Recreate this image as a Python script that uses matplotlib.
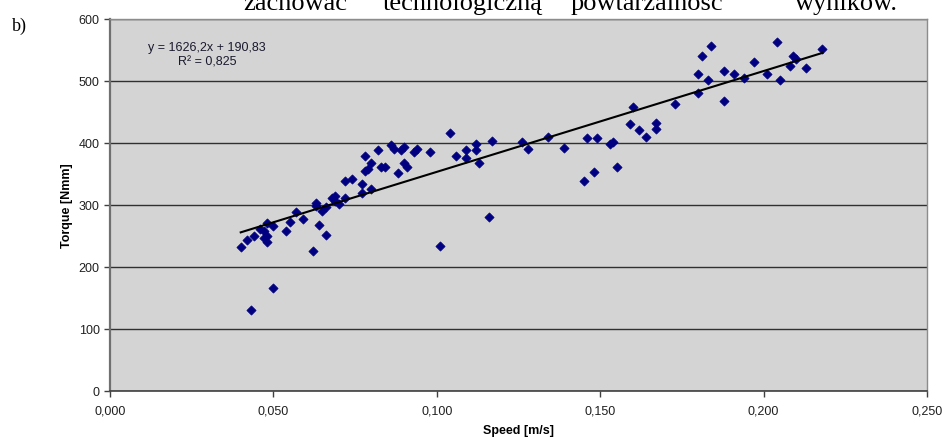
import matplotlib
matplotlib.use('Agg')
import matplotlib.pyplot as plt
from matplotlib.ticker import FuncFormatter, MultipleLocator
import numpy as np

# predkosc [m/s] i moment [Nmm]
speed = [0.040, 0.042, 0.043, 0.044, 0.046, 0.047, 0.047, 0.048, 0.048, 0.048,
         0.050, 0.050, 0.054, 0.055, 0.057, 0.059, 0.062, 0.063, 0.063, 0.064,
         0.065, 0.066, 0.066, 0.068, 0.069, 0.069, 0.070, 0.072, 0.072, 0.074,
         0.077, 0.077, 0.078, 0.078, 0.079, 0.080, 0.080, 0.082, 0.083, 0.084,
         0.086, 0.087, 0.088, 0.089, 0.090, 0.090, 0.091, 0.093, 0.094, 0.098,
         0.101, 0.104, 0.106, 0.109, 0.109, 0.112, 0.112, 0.113, 0.116, 0.117,
         0.126, 0.128, 0.134, 0.139, 0.145, 0.146, 0.148, 0.149, 0.153, 0.154,
         0.155, 0.159, 0.160, 0.162, 0.164, 0.167, 0.167, 0.173, 0.180, 0.180,
         0.181, 0.184, 0.183, 0.188, 0.188, 0.191, 0.194, 0.197, 0.201, 0.204,
         0.205, 0.208, 0.209, 0.210, 0.213, 0.218]
torque = [232, 244, 130, 250, 261, 258, 247, 271, 241, 250,
          266, 166, 258, 272, 288, 278, 226, 303, 298, 267,
          290, 296, 252, 312, 307, 314, 301, 312, 338, 342,
          334, 320, 355, 379, 358, 367, 326, 388, 361, 362,
          397, 390, 352, 389, 367, 394, 362, 385, 390, 386,
          234, 416, 379, 376, 389, 398, 389, 367, 281, 404,
          401, 390, 409, 392, 339, 408, 353, 408, 399, 402,
          362, 430, 458, 421, 410, 433, 423, 463, 511, 481,
          540, 556, 502, 516, 468, 512, 505, 530, 512, 563,
          502, 524, 541, 535, 521, 551]

# linia trendu z Excela
a = 1626.2
b = 190.83
eq_text = "y = 1626,2x + 190,83\nR² = 0,825"

xticks = [0.0, 0.05, 0.10, 0.15, 0.20, 0.25]

plt.rcParams['font.family'] = ['Liberation Sans', 'DejaVu Sans']

fig = plt.figure(figsize=(9.42, 4.39), dpi=100)
ax = fig.add_axes([110/942, 47/439, 817/942, 372/439])
ax.set_facecolor('#d4d4d4')

ax.set_xlim(0, 0.25)
ax.set_ylim(0, 600)
ax.set_xticks(xticks)
ax.yaxis.set_major_locator(MultipleLocator(100))
ax.xaxis.set_major_formatter(FuncFormatter(lambda v, p: ("%.3f" % v).replace('.', ',')))

ax.grid(True, axis='y', color='#303030', linewidth=1.0)
ax.set_axisbelow(True)

ax.scatter(speed, torque, marker='D', s=22, color='#000080', edgecolors='#000080',
           linewidths=0.5, zorder=3)

xs = np.array([min(speed), max(speed)])
ax.plot(xs, a*xs + b, color='black', linewidth=1.5, zorder=4)

ax.text(0.0297, 543, eq_text, ha='center', va='center', multialignment='center',
        fontsize=9, color='#1a1a2e')

for s in ['top', 'right']:
    ax.spines[s].set_color('#8c8c8c')
    ax.spines[s].set_linewidth(1.0)
ax.spines['left'].set_color('#707070')
ax.spines['left'].set_linewidth(1.6)
ax.spines['bottom'].set_color('#404040')
ax.spines['bottom'].set_linewidth(1.2)

ax.tick_params(axis='both', direction='out', length=4, width=1, color='#404040',
               labelsize=9, labelcolor='#202020')
ax.tick_params(axis='x', pad=6)

ax.set_xlabel('Speed [m/s]', fontsize=9, fontweight='bold', labelpad=5)
ax.set_ylabel('Torque [Nmm]', fontsize=9, fontweight='bold', labelpad=4)

# tekst z dokumentu nad wykresem (uciety u gory)
fig.text(12/942, 1 - 31/439, 'b)', fontsize=13, family='Liberation Serif', va='baseline')
slowa = ['zachować', 'technologiczną', 'powtarzalność', 'wyników.']
pozycje = [243, 383, 571, 795]
for w, px in zip(slowa, pozycje):
    fig.text(px/942, 1 - 10/439, w, fontsize=19, family='Liberation Serif', va='baseline')

plt.savefig('out.png', dpi=100)
